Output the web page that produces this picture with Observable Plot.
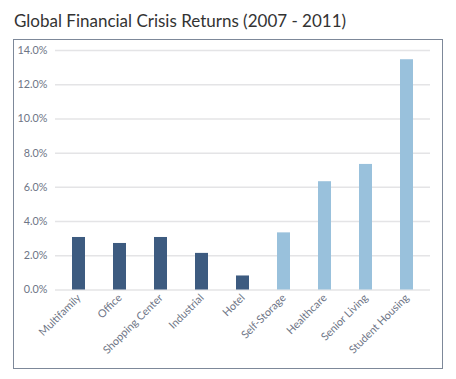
<!DOCTYPE html>
<html>
<head>
<meta charset="utf-8">
<script src="https://cdn.jsdelivr.net/npm/d3@7"></script>
<script src="https://cdn.jsdelivr.net/npm/@observablehq/plot@0.6"></script>
<style>
  html, body { margin: 0; padding: 0; background: #fff; }
  body { width: 456px; height: 379px; position: relative; font-family: Lato, "Open Sans", sans-serif; }
  #title { position: absolute; left: 14px; top: 10px; font-size: 17px; color: #333; white-space: nowrap; }
  #box { position: absolute; left: 13px; top: 39px; width: 428px; height: 328px; border: 1px solid #7d8899; }
  #box svg { display: block; }
</style>
</head>
<body>
<div id="title">Global Financial Crisis Returns (2007 - 2011)</div>
<div id="box"></div>
<script>
const categories = ["Multifamily", "Office", "Shopping Center", "Industrial", "Hotel", "Self-Storage", "Healthcare", "Senior Living", "Student Housing"];
const returns = [3.07, 2.72, 3.07, 2.14, 0.82, 3.34, 6.33, 7.34, 13.46];
const groups = ["Traditional", "Traditional", "Traditional", "Traditional", "Traditional", "Niche", "Niche", "Niche", "Niche"];
const yTicks = [0, 2, 4, 6, 8, 10, 12, 14];

const data = categories.map((c, i) => ({category: c, value: returns[i], group: groups[i]}));

const chart = Plot.plot({
  width: 428,
  height: 328,
  marginTop: 10,
  marginLeft: 41,
  marginRight: 12,
  marginBottom: 78.5,
  style: {fontFamily: "Lato, 'Open Sans', sans-serif", fontSize: "10.8px", color: "#6e7586", background: "#fff"},
  x: {domain: categories, paddingInner: 0.685, paddingOuter: 0.3425, label: null},
  y: {domain: [0, 14], label: null},
  color: {domain: ["Traditional", "Niche"], range: ["#3d5b80", "#99c1dc"]},
  marks: [
    Plot.gridY(yTicks, {stroke: "#e4e4e6", strokeOpacity: 1, strokeWidth: 1.5}),
    Plot.axisY(yTicks, {tickSize: 0, tickPadding: 8, tickFormat: d => d.toFixed(1) + "%", fill: "#6e7586", label: null}),
    Plot.axisX({tickSize: 0, tickPadding: 6, tickRotate: -45, fill: "#6e7586", label: null}),
    Plot.barY(data, {x: "category", y: "value", fill: "group"})
  ]
});
document.getElementById("box").appendChild(chart);
</script>
</body>
</html>
